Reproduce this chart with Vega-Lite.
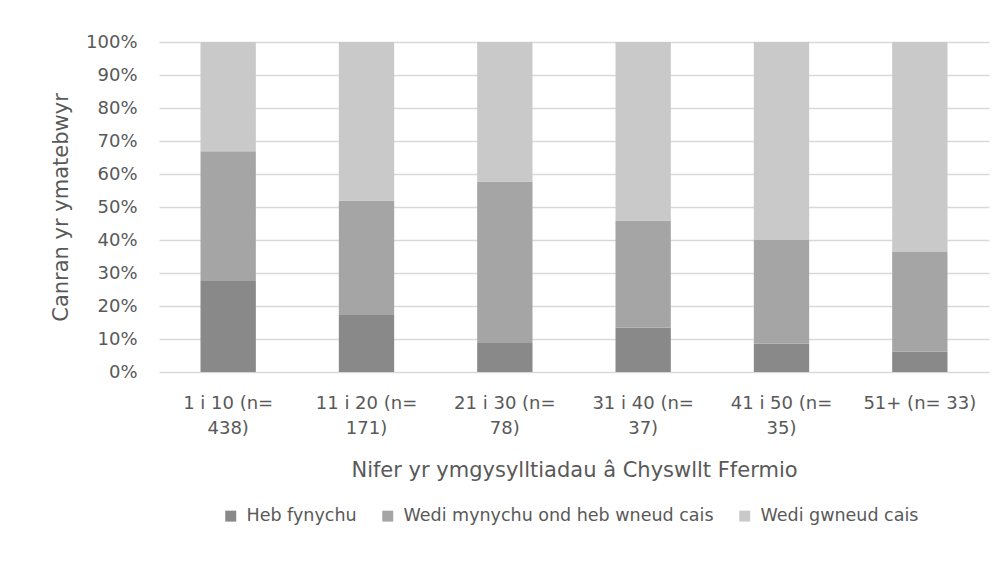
{
  "$schema": "https://vega.github.io/schema/vega-lite/v6.json",
  "width": 830,
  "height": 330,
  "autosize": {"type": "none"},
  "padding": {"left": 159, "top": 42, "right": 14, "bottom": 202},
  "background": "white",
  "config": {
    "font": "DejaVu Sans",
    "view": {"stroke": null},
    "axis": {"labelColor": "#595959", "titleColor": "#595959", "labelFont": "DejaVu Sans", "titleFont": "DejaVu Sans", "titleFontWeight": "normal"},
    "legend": {"labelColor": "#595959", "labelFont": "DejaVu Sans"}
  },
  "data": {
    "values": [
      {"grŵp": "1 i 10 (n= 438)", "ymateb": "Heb fynychu", "trefn": 1, "canran": 0.276},
      {"grŵp": "1 i 10 (n= 438)", "ymateb": "Wedi mynychu ond heb wneud cais", "trefn": 2, "canran": 0.393},
      {"grŵp": "1 i 10 (n= 438)", "ymateb": "Wedi gwneud cais", "trefn": 3, "canran": 0.331},
      {"grŵp": "11 i 20 (n= 171)", "ymateb": "Heb fynychu", "trefn": 1, "canran": 0.175},
      {"grŵp": "11 i 20 (n= 171)", "ymateb": "Wedi mynychu ond heb wneud cais", "trefn": 2, "canran": 0.345},
      {"grŵp": "11 i 20 (n= 171)", "ymateb": "Wedi gwneud cais", "trefn": 3, "canran": 0.48},
      {"grŵp": "21 i 30 (n= 78)", "ymateb": "Heb fynychu", "trefn": 1, "canran": 0.09},
      {"grŵp": "21 i 30 (n= 78)", "ymateb": "Wedi mynychu ond heb wneud cais", "trefn": 2, "canran": 0.487},
      {"grŵp": "21 i 30 (n= 78)", "ymateb": "Wedi gwneud cais", "trefn": 3, "canran": 0.423},
      {"grŵp": "31 i 40 (n= 37)", "ymateb": "Heb fynychu", "trefn": 1, "canran": 0.135},
      {"grŵp": "31 i 40 (n= 37)", "ymateb": "Wedi mynychu ond heb wneud cais", "trefn": 2, "canran": 0.324},
      {"grŵp": "31 i 40 (n= 37)", "ymateb": "Wedi gwneud cais", "trefn": 3, "canran": 0.541},
      {"grŵp": "41 i 50 (n= 35)", "ymateb": "Heb fynychu", "trefn": 1, "canran": 0.086},
      {"grŵp": "41 i 50 (n= 35)", "ymateb": "Wedi mynychu ond heb wneud cais", "trefn": 2, "canran": 0.314},
      {"grŵp": "41 i 50 (n= 35)", "ymateb": "Wedi gwneud cais", "trefn": 3, "canran": 0.6},
      {"grŵp": "51+ (n= 33)", "ymateb": "Heb fynychu", "trefn": 1, "canran": 0.061},
      {"grŵp": "51+ (n= 33)", "ymateb": "Wedi mynychu ond heb wneud cais", "trefn": 2, "canran": 0.303},
      {"grŵp": "51+ (n= 33)", "ymateb": "Wedi gwneud cais", "trefn": 3, "canran": 0.636}
    ]
  },
  "mark": {"type": "bar"},
  "encoding": {
    "x": {
      "field": "grŵp",
      "type": "nominal",
      "sort": null,
      "scale": {"paddingInner": 0.6, "paddingOuter": 0.3},
      "axis": {
        "title": "Nifer yr ymgysylltiadau â Chyswllt Ffermio",
        "labelAngle": 0,
        "labelFontSize": 18,
        "labelLineHeight": 25,
        "labelPadding": 22,
        "labelLimit": 200,
        "titleFontSize": 21,
        "titlePadding": 22,
        "ticks": false,
        "domain": false,
        "labelExpr": "indexof(datum.label, '51+') == 0 ? datum.label : [slice(datum.label, 0, indexof(datum.label, '=') + 1), slice(datum.label, indexof(datum.label, '=') + 2)]"
      }
    },
    "y": {
      "field": "canran",
      "type": "quantitative",
      "stack": "zero",
      "scale": {"domain": [0, 1]},
      "axis": {
        "title": "Canran yr ymatebwyr",
        "format": ".0%",
        "values": [0, 0.1, 0.2, 0.3, 0.4, 0.5, 0.6, 0.7, 0.8, 0.9, 1],
        "labelOverlap": false,
        "labelFontSize": 18,
        "labelPadding": 22,
        "titleFontSize": 21,
        "titlePadding": 14,
        "ticks": false,
        "domain": false,
        "gridColor": "#d9d9d9",
        "gridWidth": 1.5
      }
    },
    "color": {
      "field": "ymateb",
      "type": "nominal",
      "sort": ["Heb fynychu", "Wedi mynychu ond heb wneud cais", "Wedi gwneud cais"],
      "scale": {"domain": ["Heb fynychu", "Wedi mynychu ond heb wneud cais", "Wedi gwneud cais"], "range": ["#898989", "#a5a5a5", "#c9c9c9"]},
      "legend": {
        "title": null,
        "orient": "none",
        "legendX": 63,
        "legendY": 465,
        "direction": "horizontal",
        "symbolType": "square",
        "symbolSize": 120,
        "symbolStrokeWidth": 0,
        "labelFontSize": 17.5,
        "labelLimit": 500,
        "labelOffset": 7,
        "columnPadding": 22
      }
    },
    "order": {"field": "trefn", "type": "quantitative"}
  }
}
